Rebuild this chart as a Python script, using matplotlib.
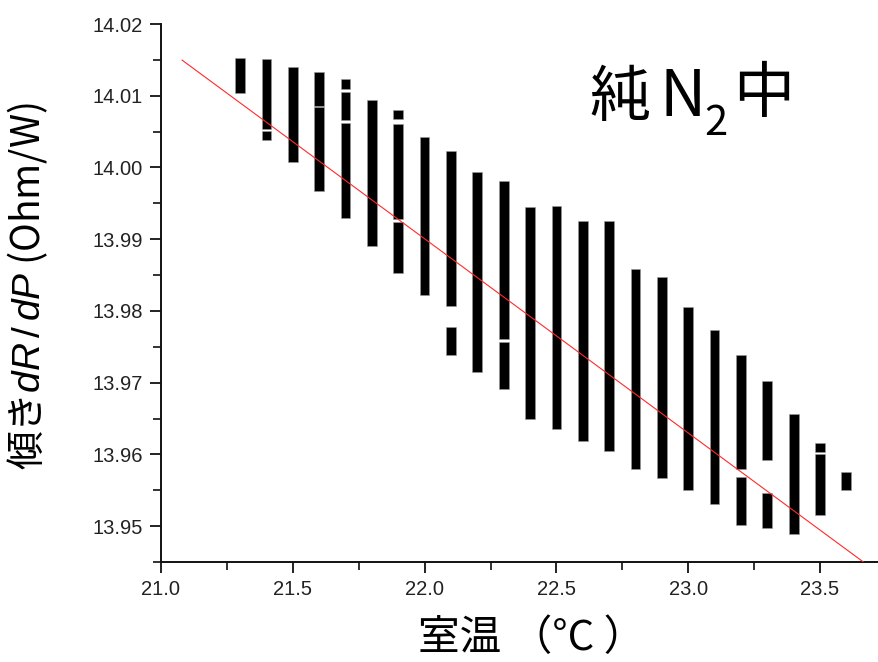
import matplotlib
matplotlib.use("Agg")
import matplotlib.pyplot as plt
from matplotlib.ticker import MultipleLocator, FormatStrFormatter
import numpy as np

plt.rcParams['mathtext.fontset'] = 'custom'
plt.rcParams['mathtext.rm'] = 'Liberation Sans'
plt.rcParams['mathtext.it'] = 'Liberation Sans:italic'

# Room temperature of each run (deg C)
temps = [21.3, 21.4, 21.5, 21.6, 21.7, 21.8, 21.9, 22.0, 22.1, 22.2, 22.3,
         22.4, 22.5, 22.6, 22.7, 22.8, 22.9, 23.0, 23.1, 23.2, 23.3, 23.4,
         23.5, 23.6]

# Observed slope ranges dR/dP (Ohm/W) at each temperature, as (low, high) pieces
slope_ranges = [
    [(14.0104, 14.0153)],
    [(14.0038, 14.0051), (14.0054, 14.0151)],
    [(14.0007, 14.0140)],
    [(13.9967, 14.0084), (14.0086, 14.0133)],
    [(13.9930, 14.0062), (14.0066, 14.0105), (14.0109, 14.0123)],
    [(13.9890, 14.0094)],
    [(13.9853, 13.9924), (13.9928, 14.0061), (14.0067, 14.0080)],
    [(13.9822, 14.0043)],
    [(13.9739, 13.9778), (13.9807, 14.0023)],
    [(13.9715, 13.9994)],
    [(13.9691, 13.9757), (13.9761, 13.9981)],
    [(13.9650, 13.9945)],
    [(13.9636, 13.9946)],
    [(13.9618, 13.9926)],
    [(13.9605, 13.9926)],
    [(13.9579, 13.9859)],
    [(13.9567, 13.9847)],
    [(13.9551, 13.9806)],
    [(13.9531, 13.9774)],
    [(13.9501, 13.9568), (13.9580, 13.9739)],
    [(13.9498, 13.9546), (13.9592, 13.9702)],
    [(13.9489, 13.9656)],
    [(13.9516, 13.9600), (13.9604, 13.9616)],
    [(13.9550, 13.9575)],
]

# Linear fit of slope vs. temperature
fit_slope = -0.02707
fit_intercept = 14.5856
fit_x = [21.08, 23.72]

x_ticks = [21.0, 21.5, 22.0, 22.5, 23.0, 23.5]
y_ticks = [13.95, 13.96, 13.97, 13.98, 13.99, 14.00, 14.01, 14.02]

W, H = 879, 662
fig = plt.figure(figsize=(W / 100, H / 100), dpi=100)
ax = fig.add_axes([161 / W, 1 - 562 / H, (W - 161) / W, (562 - 24) / H])

# Range bars
for t, pieces in zip(temps, slope_ranges):
    for lo, hi in pieces:
        ax.bar(t, hi - lo, bottom=lo, width=0.037, color='black',
               edgecolor='#9a9a9a', linewidth=0.4, zorder=2)

# Fit line
fx = np.array(fit_x)
ax.plot(fx, fit_intercept + fit_slope * fx, color='#ff2a2a', lw=0.8, zorder=3)

ax.set_xlim(21.0, 21.0 + (W - 161) / 263.6)
ax.set_ylim(13.945, 14.02)
ax.set_xticks(x_ticks)
ax.set_yticks(y_ticks)
ax.xaxis.set_minor_locator(MultipleLocator(0.25))
ax.yaxis.set_minor_locator(MultipleLocator(0.005))
ax.xaxis.set_major_formatter(FormatStrFormatter('%.1f'))
ax.yaxis.set_major_formatter(FormatStrFormatter('%.2f'))

for s in ('top', 'right'):
    ax.spines[s].set_visible(False)
for s in ('left', 'bottom'):
    ax.spines[s].set_linewidth(1.4)
    ax.spines[s].set_color('#111111')

ax.tick_params(which='major', direction='out', length=8, width=1.3,
               color='#111111', labelsize=14.5, labelcolor='#222222', pad=5)
ax.tick_params(which='minor', direction='out', length=6, width=1.2,
               color='#111111')
for lab in ax.get_xticklabels() + ax.get_yticklabels():
    lab.set_fontfamily('Liberation Sans')

# Axis titles
fig.text(532 / W, 1 - 638 / H, '室温 （°C ）', family=['Noto Sans CJK JP', 'DejaVu Sans'],
         fontsize=30, ha='center', va='center')
fig.text(28 / W, 1 - 286 / H, r'傾き$\mathit{dR\,/\,dP}$ (Ohm/W)',
         family='Noto Sans CJK JP', fontsize=28, rotation=90,
         ha='center', va='center')

# Gas condition label: 純N2中 with subscript
cjk = 'Noto Sans CJK JP'
ybase = 1 - 116 / H
fig.text(589 / W, ybase, '純', family=cjk, fontsize=44, ha='left', va='baseline')
fig.text(660 / W, ybase, 'N', family=cjk, fontsize=46, ha='left', va='baseline')
fig.text(704 / W, 1 - 135 / H, '2', family=cjk, fontsize=30, ha='left', va='baseline')
fig.text(733 / W, ybase + 4 / H, '中', family=cjk, fontsize=44, ha='left', va='baseline')

fig.savefig('out.png', dpi=100)
